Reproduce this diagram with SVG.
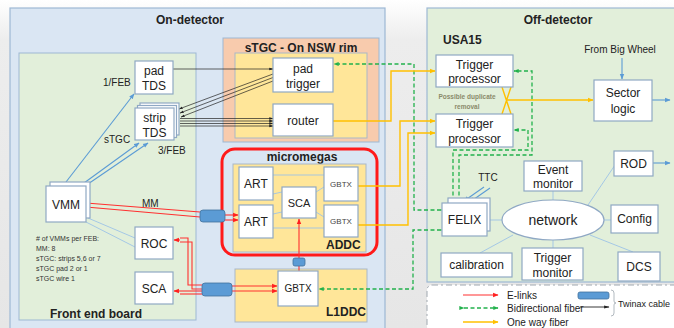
<svg xmlns="http://www.w3.org/2000/svg" width="674" height="328" viewBox="0 0 674 328">
<style>
text{font-family:"Liberation Sans","Open Sans",Arial,sans-serif;fill:#222;}
.t{font-size:12px;text-anchor:middle;}
.b{font-weight:bold;font-size:12px;text-anchor:middle;}
.s{font-size:8px;text-anchor:middle;fill:#444;}
.n{font-size:7px;fill:#333;}
.box{fill:#fff;stroke:#8fa8c4;stroke-width:1.2;}
.yb{fill:#ffe699;stroke:#a9b8c8;stroke-width:1;}
.thin{stroke:#9dc3e6;stroke-width:0.9;fill:none;}
.blk{stroke:#222;stroke-width:0.7;fill:none;}
.red{stroke:#ff3030;stroke-width:1.1;fill:none;}
.grn{stroke:#22b14c;stroke-width:1.3;fill:none;stroke-dasharray:4 2.5;}
.yel{stroke:#ffc000;stroke-width:1.4;fill:none;}
.blu{stroke:#5b9bd5;stroke-width:1.1;fill:none;}
.tw{fill:#5b9bd5;stroke:#41719c;stroke-width:0.8;}
</style>
<defs>
<linearGradient id="bg" x1="0" y1="0" x2="0" y2="1">
<stop offset="0" stop-color="#ffffff"/><stop offset="0.12" stop-color="#ededed"/><stop offset="1" stop-color="#e6e6e6"/>
</linearGradient>
<marker id="ak" viewBox="0 0 10 10" refX="9" refY="5" markerWidth="6" markerHeight="6" orient="auto"><path d="M0,2L10,5L0,8z" fill="#222"/></marker>
<marker id="ar" viewBox="0 0 10 10" refX="9" refY="5" markerWidth="5" markerHeight="5" orient="auto"><path d="M0,1L10,5L0,9z" fill="#ff2020"/></marker>
<marker id="ag" viewBox="0 0 10 10" refX="9" refY="5" markerWidth="4" markerHeight="4" orient="auto"><path d="M0,1L10,5L0,9z" fill="#22b14c"/></marker>
<marker id="ay" viewBox="0 0 10 10" refX="9" refY="5" markerWidth="4" markerHeight="4" orient="auto"><path d="M0,1L10,5L0,9z" fill="#ffc000"/></marker>
<marker id="ab" viewBox="0 0 10 10" refX="9" refY="5" markerWidth="5" markerHeight="5" orient="auto"><path d="M0,1L10,5L0,9z" fill="#5b9bd5"/></marker>
</defs>
<rect x="0" y="0" width="674" height="328" fill="url(#bg)"/>

<!-- containers -->
<g id="on-detector">
<rect x="10" y="8" width="375" height="330" fill="#dae6f3" stroke="#9db8d4" stroke-width="1.2"/>
<text class="b" x="190" y="24">On-detector</text>
</g>
<g id="off-detector">
<rect x="427" y="8" width="260" height="274" fill="#e2efda" stroke="#9db8d4" stroke-width="1.2"/>
<text class="b" x="558" y="24">Off-detector</text>
<text x="443" y="44" style="font-weight:bold;font-size:12px">USA15</text>
</g>
<g id="front-end-board">
<rect x="19" y="53" width="177" height="267" fill="#e2efda" stroke="#9db8d4" stroke-width="1"/>
<text x="50" y="318" style="font-weight:bold;font-size:12px">Front end board</text>
<text class="n" x="36" y="241"># of VMMs per FEB:</text>
<text class="n" x="36" y="251">MM: 8</text>
<text class="n" x="36" y="261">sTGC: strips 5,6 or 7</text>
<text class="n" x="36" y="271">sTGC pad 2 or 1</text>
<text class="n" x="36" y="281">sTGC wire 1</text>
<text x="103" y="86" style="font-size:10px">1/FEB</text>
<text x="104" y="143" style="font-size:10px">sTGC</text>
<text x="158" y="154" style="font-size:10px">3/FEB</text>
<text x="142" y="207" style="font-size:10px">MM</text>
</g>
<g id="stgc-rim">
<rect x="223" y="38" width="156" height="104" fill="#f8cbad" stroke="#9db8d4" stroke-width="1"/>
<text class="b" x="301" y="52">sTGC - On NSW rim</text>
<rect x="235" y="53" width="132" height="85" class="yb"/>
</g>
<g id="micromegas">
<rect x="222" y="149" width="155" height="106" rx="13" fill="#dae6f3" stroke="#ff1a1a" stroke-width="3"/>
<text class="b" x="302" y="161">micromegas</text>
<rect x="233" y="164" width="133" height="88" class="yb"/>
<text x="326" y="249" style="font-weight:bold;font-size:12px">ADDC</text>
</g>
<g id="l1ddc">
<rect x="235" y="269" width="132" height="53" class="yb"/>
<text x="326" y="316" style="font-weight:bold;font-size:12px">L1DDC</text>
</g>

<!-- connectors -->
<g id="connectors">
<path class="thin" d="M273,175H324M273,228H324M273,194L282,192M273,214L282,212M316,192L324,187M316,212L324,217"/>
<path class="blu" d="M66,182L134,94" marker-end="url(#ab)"/>
<path class="blu" d="M84,183L139,143" marker-end="url(#ab)"/>
<path class="blu" d="M88,184L148,143" marker-end="url(#ab)"/>
<path class="thin" d="M88,218L135,238M86,222L135,247"/>
<path class="blk" d="M173,69H273" marker-end="url(#ak)"/>
<path class="blk" d="M273,74L179,109" marker-end="url(#ak)"/>
<path class="blk" d="M273,77.5L180,113" marker-end="url(#ak)"/>
<path class="blk" d="M273,81L181,117" marker-end="url(#ak)"/>
<path class="blk" d="M180,118.5H273" marker-end="url(#ak)"/>
<path class="blk" d="M180,121H273" marker-end="url(#ak)"/>
<path class="blk" d="M180,123.5H273" marker-end="url(#ak)"/>
<path class="blk" d="M180,126H273" marker-end="url(#ak)"/>
<path class="red" d="M86,203L200,212M86,207L200,217"/>
<path class="red" d="M225,215H238" marker-end="url(#ar)"/>
<path class="red" d="M225,220H238" marker-end="url(#ar)"/>
<path class="red" d="M232,286H277" marker-end="url(#ar)"/>
<path class="red" d="M232,291H277" marker-end="url(#ar)"/>
<path class="red" d="M202,285H188V238H180"/>
<path class="red" d="M202,289H192V242H180"/>
<path class="red" d="M180,240H174" marker-end="url(#ar)"/>
<path class="red" d="M202,291H174" marker-end="url(#ar)"/>
<path class="red" d="M202,294H180"/>
<path class="red" d="M299,271V266M299,258V219" marker-end="url(#ar)"/>
<path class="grn" d="M441,210H414V64H334" marker-start="url(#ag)" marker-end="url(#ag)"/>
<path class="grn" d="M441,230H413V289H319" marker-start="url(#ag)" marker-end="url(#ag)"/>
<path class="grn" d="M459,202V155H532V71H514" marker-start="url(#ag)" marker-end="url(#ag)"/>
<path class="grn" d="M453,202V150H528V130H514" marker-start="url(#ag)" marker-end="url(#ag)"/>
<path class="yel" d="M333,121H391V71H435" marker-end="url(#ay)"/>
<path class="yel" d="M358,186H400V121H435" marker-end="url(#ay)"/>
<path class="yel" d="M358,225H408V133H435" marker-end="url(#ay)"/>
<path class="yel" d="M502,87L511,114M511,87L502,114"/>
<path class="yel" d="M506,100H593" marker-end="url(#ay)"/>
<path class="blu" d="M622,58V79" marker-end="url(#ab)"/>
<path class="blu" d="M652,100H670" marker-end="url(#ab)"/>
<path class="blu" d="M653,163H670" marker-end="url(#ab)"/>
<path class="blu" d="M484,187L464,201" marker-end="url(#ab)"/>
<path class="blu" d="M490,188L470,202" marker-end="url(#ab)"/>
<path class="thin" d="M553,200V191M502,220H487M604,220H611M553,240V248M513,235L480,253M590,235L633,252M588,205L615,165"/>
</g>

<!-- nodes -->
<g id="pad-tds"><rect class="box" x="135" y="61" width="38" height="33"/><text class="t" x="154" y="75">pad</text><text class="t" x="154" y="90">TDS</text></g>
<g id="strip-tds">
<rect class="box" x="140" y="103" width="39" height="32"/>
<rect class="box" x="137.5" y="105.5" width="39" height="32"/>
<rect class="box" x="135" y="108" width="39" height="32"/>
<text class="t" x="154.5" y="122">strip</text><text class="t" x="154.5" y="137">TDS</text></g>
<g id="vmm">
<rect class="box" x="50" y="182" width="40" height="36"/>
<rect class="box" x="46" y="186" width="40" height="36"/>
<text class="t" x="66" y="209">VMM</text></g>
<g id="roc"><rect class="box" x="135" y="227" width="38" height="32"/><text class="t" x="154" y="248">ROC</text></g>
<g id="sca-feb"><rect class="box" x="135" y="272" width="38" height="32"/><text class="t" x="154" y="293">SCA</text></g>
<g id="pad-trigger"><rect class="box" x="273" y="58" width="60" height="34"/><text class="t" x="303" y="73">pad</text><text class="t" x="303" y="88">trigger</text></g>
<g id="router"><rect class="box" x="273" y="104" width="60" height="32"/><text class="t" x="303" y="125">router</text></g>
<g id="art1"><rect class="box" x="239" y="167" width="34" height="33"/><text class="t" x="256" y="188">ART</text></g>
<g id="art2"><rect class="box" x="239" y="205" width="34" height="33"/><text class="t" x="256" y="226">ART</text></g>
<g id="sca-addc"><rect class="box" x="282" y="187" width="34" height="31"/><text class="t" x="299" y="207" style="font-size:11px">SCA</text></g>
<g id="gbtx1"><rect class="box" x="324" y="167" width="34" height="34"/><text class="s" x="341" y="187">GBTX</text></g>
<g id="gbtx2"><rect class="box" x="324" y="205" width="34" height="32"/><text class="s" x="341" y="224">GBTX</text></g>
<g id="gbtx-l1ddc"><rect class="box" x="278" y="271" width="40" height="35"/><text class="t" x="298" y="292" style="font-size:10px">GBTX</text></g>
<g id="twinax1"><rect class="tw" x="200" y="210" width="25" height="12" rx="3"/></g>
<g id="twinax2"><rect class="tw" x="202" y="283" width="30" height="13" rx="3"/></g>
<g id="twinax3"><rect class="tw" x="293" y="258" width="12" height="8" rx="2"/></g>
<g id="trigger-proc1"><rect class="box" x="436" y="55" width="77" height="32"/><text class="t" x="474.5" y="69">Trigger</text><text class="t" x="474.5" y="83">processor</text></g>
<g id="trigger-proc2"><rect class="box" x="436" y="114" width="77" height="33"/><text class="t" x="474.5" y="128">Trigger</text><text class="t" x="474.5" y="143">processor</text></g>
<g id="dup-note"><text x="467" y="99" style="font-size:6.5px;font-weight:bold;text-anchor:middle;fill:#8a8a6a">Possible duplicate</text><text x="467" y="109" style="font-size:6.5px;font-weight:bold;text-anchor:middle;fill:#8a8a6a">removal</text></g>
<g id="sector-logic"><rect class="box" x="594" y="80" width="58" height="41"/><text class="t" x="623" y="97">Sector</text><text class="t" x="623" y="113">logic</text><text x="620" y="53" style="font-size:10px;text-anchor:middle">From Big Wheel</text></g>
<g id="rod"><rect class="box" x="614" y="151" width="39" height="25"/><text class="t" x="633.5" y="168">ROD</text></g>
<g id="event-monitor"><rect class="box" x="524" y="161" width="58" height="30"/><text class="t" x="553" y="174">Event</text><text class="t" x="553" y="188">monitor</text></g>
<g id="felix">
<rect class="box" x="448" y="198" width="42" height="33"/>
<rect class="box" x="442" y="203" width="45" height="33"/>
<text class="t" x="464.5" y="224">FELIX</text>
<text x="488" y="181" style="font-size:10px;text-anchor:middle">TTC</text></g>
<g id="network"><ellipse cx="553" cy="220" rx="51" ry="20" fill="#fff" stroke="#8fa8c4" stroke-width="1.2"/><text x="553" y="225" style="font-size:14px;text-anchor:middle">network</text></g>
<g id="config"><rect class="box" x="611" y="205" width="47" height="28"/><text class="t" x="634.5" y="223">Config</text></g>
<g id="calibration"><rect class="box" x="441" y="253" width="71" height="24"/><text class="t" x="476.5" y="269">calibration</text></g>
<g id="trigger-monitor"><rect class="box" x="522" y="248" width="61" height="32"/><text class="t" x="552.5" y="262">Trigger</text><text class="t" x="552.5" y="277">monitor</text></g>
<g id="dcs"><rect class="box" x="618" y="252" width="42" height="29"/><text class="t" x="639" y="271">DCS</text></g>

<g id="legend">
<rect x="427" y="285" width="260" height="60" rx="5" fill="#fff" stroke="#a0a8b0" stroke-width="1" stroke-dasharray="6 3 2 3"/>
<path class="red" d="M463,295H498" marker-end="url(#ar)"/>
<path class="grn" d="M464,308H498" marker-start="url(#ag)" marker-end="url(#ag)"/>
<path class="yel" d="M463,322H498" marker-end="url(#ay)"/>
<text x="507" y="299" style="font-size:10px">E-links</text>
<text x="507" y="312" style="font-size:10px">Bidirectional fiber</text>
<text x="507" y="326" style="font-size:10px">One way fiber</text>
<rect class="tw" x="578" y="292" width="31" height="7" rx="2"/>
<path d="M580,307H609" fill="none" stroke="#222" stroke-width="0.9" marker-end="url(#ak)"/>
<path d="M611,290Q614,290 614,293V301Q614,303 616,303Q614,303 614,305V313Q614,316 611,316" fill="none" stroke="#a0a8b0" stroke-width="0.8"/>
<text x="618" y="307" style="font-size:9px">Twinax cable</text>
</g>
</svg>
